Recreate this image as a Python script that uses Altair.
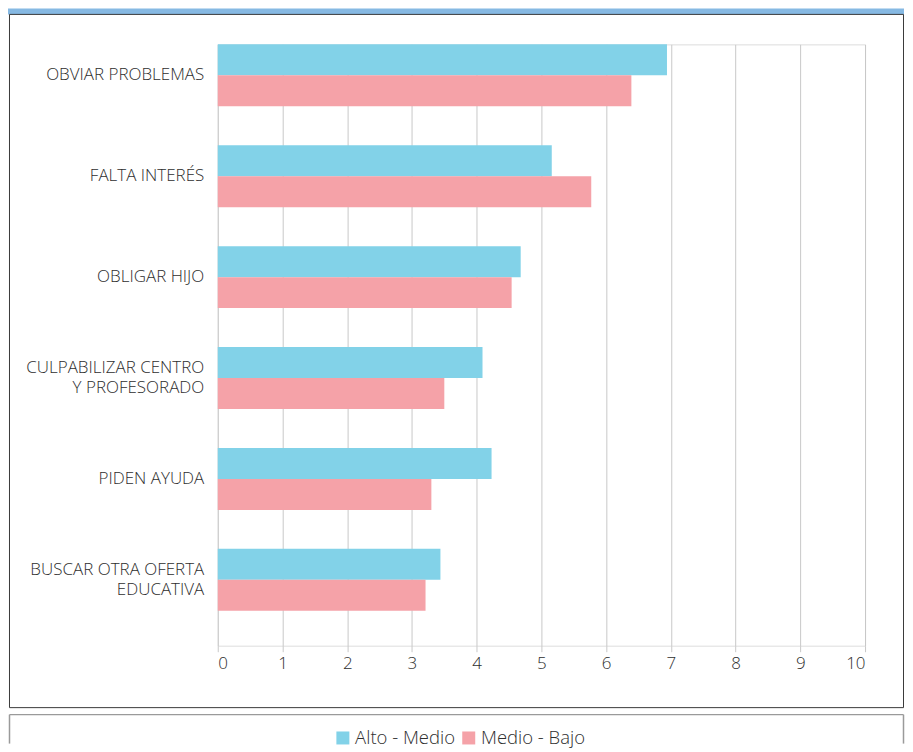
import altair as alt
import pandas as pd

categories = ["OBVIAR PROBLEMAS", "FALTA INTERÉS", "OBLIGAR HIJO",
              "CULPABILIZAR CENTRO|Y PROFESORADO", "PIDEN AYUDA",
              "BUSCAR OTRA OFERTA|EDUCATIVA"]
series_names = ["Alto - Medio", "Medio - Bajo"]
alto_medio = [6.94, 5.16, 4.68, 4.09, 4.23, 3.44]
medio_bajo = [6.39, 5.77, 4.54, 3.50, 3.30, 3.21]
x_ticks = list(range(0, 11))
colors = ["#82D2E8", "#F5A2A8"]

rows = []
for c, a, b in zip(categories, alto_medio, medio_bajo):
    rows.append({"cat": c, "serie": series_names[0], "valor": a})
    rows.append({"cat": c, "serie": series_names[1], "valor": b})
df = pd.DataFrame(rows)

W, H = 648, 602
FONT = "Open Sans"

bars = alt.Chart(df).mark_bar().encode(
    y=alt.Y("cat:N", sort=categories,
            scale=alt.Scale(paddingInner=0.386, paddingOuter=0.173, align=0),
            axis=alt.Axis(title=None, labelExpr="split(datum.label, '|')",
                          ticks=False, domain=False, grid=False, labelPadding=14,
                          labelOffset={"condition": {"test": "indexof(datum.value, '|') >= 0",
                                                     "value": -10}, "value": 0},
                          labelFontSize=17, labelFontWeight=300, labelLineHeight=20,
                          labelColor="#2e2e2e", labelLimit=300, labelFont=FONT)),
    x=alt.X("valor:Q", scale=alt.Scale(domain=[0, 10], nice=False),
            axis=alt.Axis(title=None, values=x_ticks, grid=True, gridColor="#C8C8C8",
                          domain=False, tickColor="#C8C8C8", tickSize=6,
                          labelPadding=4, labelFontSize=17, labelFontWeight=300,
                          labelColor="#2e2e2e", labelFont=FONT)),
    yOffset=alt.YOffset("serie:N", sort=series_names,
                        scale=alt.Scale(paddingInner=0, paddingOuter=0)),
    color=alt.Color("serie:N", sort=series_names,
                    scale=alt.Scale(domain=series_names, range=colors),
                    legend=alt.Legend(title=None, orient="none", legendX=116, legendY=685,
                                      direction="horizontal", symbolType="square",
                                      symbolSize=169, symbolStrokeWidth=0,
                                      labelFontSize=18.5, labelFontWeight=300,
                                      labelColor="#2e2e2e", labelFont=FONT,
                                      columnPadding=4, labelOffset=3, padding=0)),
)

one = pd.DataFrame({"k": [0]})

strip = alt.Chart(one).mark_rect(color="#86B9E3").encode(
    x=alt.value(-210), x2=alt.value(687), y=alt.value(-36), y2=alt.value(-30))

frame = alt.Chart(one).mark_rect(fill="transparent", stroke="#3a3a3a", strokeWidth=1).encode(
    x=alt.value(-208.5), x2=alt.value(686.5), y=alt.value(-30), y2=alt.value(664))

lb_top = alt.Chart(one).mark_rule(color="#9a9a9a", strokeWidth=1.5).encode(
    x=alt.value(-208.5), x2=alt.value(686.5), y=alt.value(671))
lb_left = alt.Chart(one).mark_rule(color="#9a9a9a", strokeWidth=1.5).encode(
    x=alt.value(-208.5), y=alt.value(671), y2=alt.value(700))
lb_right = alt.Chart(one).mark_rule(color="#9a9a9a", strokeWidth=1.5).encode(
    x=alt.value(686.5), y=alt.value(671), y2=alt.value(700))

chart = alt.layer(strip, frame, lb_top, lb_left, lb_right, bars).properties(
    width=W, height=H, padding=0, background="white"
).configure_view(stroke="transparent").configure(font=FONT)

chart.save("out.html", embed_options={"renderer": "svg", "actions": False})
